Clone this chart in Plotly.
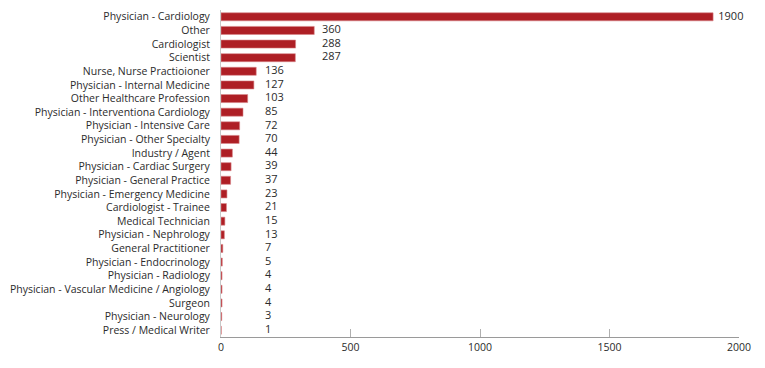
import plotly.graph_objects as go

categories = [
    "Physician - Cardiology", "Other", "Cardiologist", "Scientist",
    "Nurse, Nurse Practioioner", "Physician - Internal Medicine",
    "Other Healthcare Profession", "Physician - Interventiona Cardiology",
    "Physician - Intensive Care", "Physician - Other Specialty",
    "Industry / Agent", "Physician - Cardiac Surgery",
    "Physician - General Practice", "Physician - Emergency Medicine",
    "Cardiologist - Trainee", "Medical Technician", "Physician - Nephrology",
    "General Practitioner", "Physician - Endocrinology", "Physician - Radiology",
    "Physician - Vascular Medicine / Angiology", "Surgeon",
    "Physician - Neurology", "Press / Medical Writer",
]
values = [1900, 360, 288, 287, 136, 127, 103, 85, 72, 70, 44, 39, 37, 23, 21,
          15, 13, 7, 5, 4, 4, 4, 3, 1]
x_ticks = [0, 500, 1000, 1500, 2000]

BAR = "#AE1F25"
TXT = "#2b2b2b"
FONT = "Open Sans"

label_x = [max(v + 20, 170 if v < 250 else 390) for v in values]

fig = go.Figure()
fig.add_trace(go.Bar(
    x=values, y=categories, orientation="h",
    marker=dict(color=BAR, line=dict(color="#D8868A", width=0.6)),
    hoverinfo="x+y",
))
fig.add_trace(go.Scatter(
    x=label_x, y=categories, mode="text", text=[str(v) for v in values],
    textposition="middle right", hoverinfo="skip", cliponaxis=False,
    textfont=dict(family=FONT, size=11, color=TXT),
))

fig.update_layout(
    width=765, height=368,
    margin=dict(l=221, r=26, t=10, b=31),
    paper_bgcolor="white", plot_bgcolor="white",
    bargap=0.41, showlegend=False,
    font=dict(family=FONT, size=10.5, color=TXT),
)
fig.update_xaxes(range=[0, 2000], tickvals=x_ticks, showgrid=False,
                 zeroline=False, showline=True, linecolor="#9a9a9a", linewidth=1,
                 ticks="inside", ticklen=8, tickcolor="#b0b0b0", tickwidth=1,
                 automargin=False,
                 tickfont=dict(family=FONT, size=10.5, color=TXT))
fig.update_yaxes(categoryorder="array", categoryarray=categories[::-1],
                 range=[-0.5, len(categories) - 0.5], automargin=False,
                 showgrid=False, showline=True, linecolor="#c8c8c8", linewidth=1,
                 ticks="", ticklabelstandoff=8,
                 tickfont=dict(family=FONT, size=10.5, color=TXT))

fig.write_html("out.html", config={"displayModeBar": False},
               post_script="document.body.style.margin='0';")
